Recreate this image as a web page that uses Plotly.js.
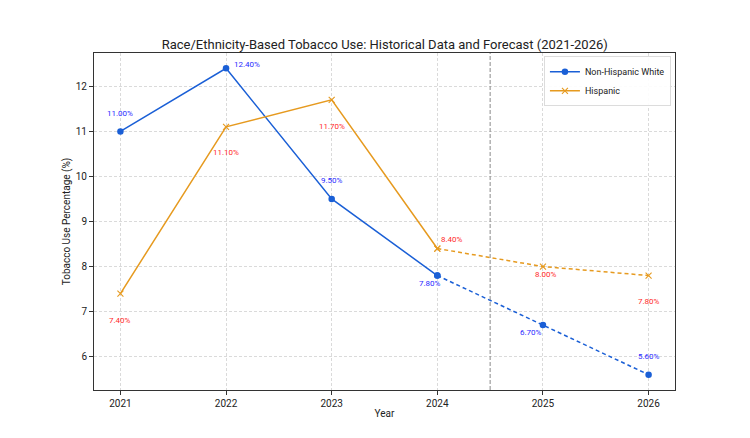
<!DOCTYPE html>
<html>
<head>
<meta charset="utf-8">
<script src="https://cdn.plot.ly/plotly-3.0.1.min.js"></script>
<style>
  html, body { margin: 0; padding: 0; background: #ffffff; }
  #chart { width: 750px; height: 438px; }
</style>
</head>
<body>
<div id="chart"></div>
<script>
// Tobacco use by race/ethnicity, observed 2021-2024 and projected 2025-2026
const years = [2021, 2022, 2023, 2024, 2025, 2026];
const whiteValues = [11.0, 12.4, 9.5, 7.8, 6.7, 5.6];
const hispanicValues = [7.4, 11.1, 11.7, 8.4, 8.0, 7.8];
const seriesNames = ["Non-Hispanic White", "Hispanic"];
const forecastStart = 3; // index of 2024, last observed year
const forecastDivider = 2024.5;

// label offsets in pixels (x right, y up) for each point's value label
const whiteLabelShift = [[0, 18], [21, 4], [0, 18], [-7, -8], [-12, -7], [0, 18]];
const hispanicLabelShift = [[0, -27], [0, -26], [0, -27], [15, 9], [3, -8], [0, -26]];

const blue = "#1a5fd6";
const orange = "#e69a1f";
const font = "Roboto, 'Open Sans', sans-serif";

function split(values) {
  return {
    histX: years.slice(0, forecastStart + 1),
    histY: values.slice(0, forecastStart + 1),
    foreX: years.slice(forecastStart),
    foreY: values.slice(forecastStart)
  };
}

const w = split(whiteValues);
const h = split(hispanicValues);

const whiteMarker = { symbol: "circle", size: 6.5, color: blue };
const hispMarker = { symbol: "x-thin", size: 6, color: orange, line: { color: orange, width: 1.1 } };

const traces = [
  { x: w.histX, y: w.histY, name: seriesNames[0], mode: "lines+markers",
    line: { color: blue, width: 1.5 }, marker: whiteMarker, legendgroup: "w" },
  { x: w.foreX, y: w.foreY, name: seriesNames[0], mode: "lines+markers", showlegend: false,
    line: { color: blue, width: 1.5, dash: "4px,3px" }, marker: whiteMarker, legendgroup: "w" },
  { x: h.histX, y: h.histY, name: seriesNames[1], mode: "lines+markers",
    line: { color: orange, width: 1.5 }, marker: hispMarker, legendgroup: "h" },
  { x: h.foreX, y: h.foreY, name: seriesNames[1], mode: "lines+markers", showlegend: false,
    line: { color: orange, width: 1.5, dash: "4px,3px" }, marker: hispMarker, legendgroup: "h" }
];

const annotations = [];
years.forEach((yr, i) => {
  annotations.push({
    x: yr, y: whiteValues[i], xref: "x", yref: "y", showarrow: false,
    text: whiteValues[i].toFixed(2) + "%",
    xshift: whiteLabelShift[i][0], yshift: whiteLabelShift[i][1],
    font: { family: font, size: 8, color: "#2a2aff" }
  });
  annotations.push({
    x: yr, y: hispanicValues[i], xref: "x", yref: "y", showarrow: false,
    text: hispanicValues[i].toFixed(2) + "%",
    xshift: hispanicLabelShift[i][0], yshift: hispanicLabelShift[i][1],
    font: { family: font, size: 8, color: "#ff2a2a" }
  });
});

const gridStyle = { showgrid: true, gridcolor: "#dadada", griddash: "3px,2px", gridwidth: 1 };

const layout = {
  width: 750,
  height: 438,
  margin: { l: 94, r: 75, t: 53, b: 48 },
  paper_bgcolor: "#ffffff",
  plot_bgcolor: "#ffffff",
  font: { family: font, size: 10, color: "#222222" },
  title: {
    text: "Race/Ethnicity-Based Tobacco Use: Historical Data and Forecast (2021-2026)",
    font: { family: font, size: 13, color: "#222222" },
    x: 0.513, xanchor: "center",
    y: 1 - 44 / 438, yref: "container", yanchor: "middle"
  },
  xaxis: Object.assign({
    range: [2020.75, 2026.25],
    tickvals: years,
    ticktext: years.map(String),
    ticks: "outside", ticklen: 4, tickcolor: "#333333",
    showline: true, mirror: true, linecolor: "#333333", linewidth: 1,
    zeroline: false,
    tickfont: { family: font, size: 10, color: "#222222" },
    title: { text: "Year", font: { family: font, size: 10, color: "#222222" }, standoff: 1 }
  }, gridStyle),
  yaxis: Object.assign({
    range: [5.26, 12.74],
    tickvals: [6, 7, 8, 9, 10, 11, 12],
    ticks: "outside", ticklen: 4, tickcolor: "#333333",
    showline: true, mirror: true, linecolor: "#333333", linewidth: 1,
    zeroline: false,
    tickfont: { family: font, size: 10, color: "#222222" },
    title: { text: "Tobacco Use Percentage (%)", font: { family: font, size: 10, color: "#222222" }, standoff: 3 }
  }, gridStyle),
  shapes: [{
    type: "line", xref: "x", yref: "paper",
    x0: forecastDivider, x1: forecastDivider, y0: 0, y1: 1,
    line: { color: "#8a8a8a", width: 1, dash: "4px,2px" }
  }],
  legend: {
    x: 0.993, xanchor: "right", y: 0.99, yanchor: "top",
    bgcolor: "rgba(255,255,255,0.9)", bordercolor: "#dcdcdc", borderwidth: 1,
    font: { family: font, size: 9, color: "#222222" },
    tracegroupgap: 0, itemwidth: 30
  },
  annotations: annotations
};

Plotly.newPlot("chart", traces, layout, { displayModeBar: false, staticPlot: true });
</script>
</body>
</html>
